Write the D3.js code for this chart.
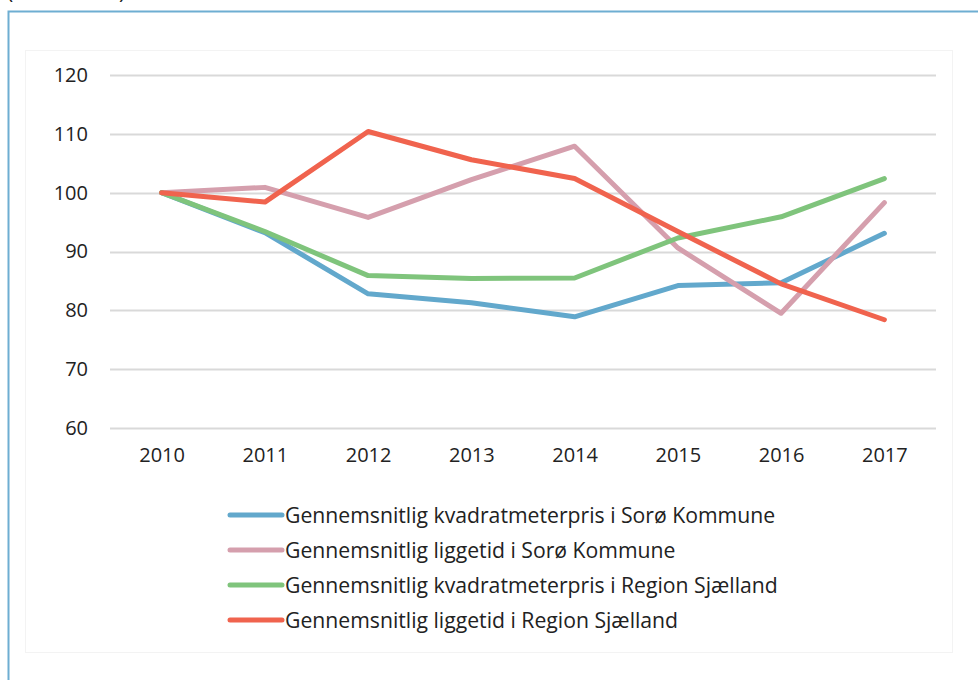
<!DOCTYPE html>
<html><head><meta charset="utf-8">
<script src="https://cdn.jsdelivr.net/npm/d3@7"></script>
<style>
html,body{margin:0;padding:0;background:#fff;}
svg{display:block;font-family:"Open Sans",sans-serif;}
</style></head>
<body>
<svg id="chart" width="978" height="680"></svg>
<script>
const years = ["2010","2011","2012","2013","2014","2015","2016","2017"];
const yTicks = [60,70,80,90,100,110,120];
const seriesNames = [
  "Gennemsnitlig kvadratmeterpris i Sorø Kommune",
  "Gennemsnitlig liggetid i Sorø Kommune",
  "Gennemsnitlig kvadratmeterpris i Region Sjælland",
  "Gennemsnitlig liggetid i Region Sjælland"
];
const seriesColors = ["#62a8cc","#d59fad","#7fc47c","#f0634e"];
const soroPris = [100, 93.2, 82.8, 81.3, 78.9, 84.2, 84.7, 93.1];
const soroLiggetid = [100, 100.9, 95.8, 102.2, 107.9, 90.6, 79.5, 98.3];
const regionPris = [100, 93.4, 85.9, 85.4, 85.5, 92.3, 95.9, 102.4];
const regionLiggetid = [100, 98.4, 110.4, 105.6, 102.4, 93.4, 84.5, 78.4];
const seriesValues = [soroPris, soroLiggetid, regionPris, regionLiggetid];
const titleText = "(Indeks 100)";

const svg = d3.select("#chart");

// outer frame (title sits above, mostly out of view as in the source)
svg.append("text").attr("x", 7).attr("y", -1).attr("font-size", 21).attr("fill", "#222").text(titleText);
svg.append("rect").attr("x", 8.5).attr("y", 11.5).attr("width", 990).attr("height", 700)
  .attr("fill", "none").attr("stroke", "#6eaed2").attr("stroke-width", 2);
svg.append("rect").attr("x", 25.5).attr("y", 50.5).attr("width", 927).attr("height", 602)
  .attr("fill", "none").attr("stroke", "#f3f3f3").attr("stroke-width", 1);

const x = d3.scalePoint().domain(years).range([110, 936]).padding(0.5);
const y = d3.scaleLinear().domain([60, 120]).range([428, 75]);

// gridlines
const grid = svg.append("g");
grid.selectAll("line").data(yTicks).join("line")
  .attr("x1", 110).attr("x2", 936)
  .attr("y1", d => Math.round(y(d)) + 0.5).attr("y2", d => Math.round(y(d)) + 0.5)
  .attr("stroke", "#d9d9d9").attr("stroke-width", 2);

// y axis labels
const yAxis = d3.axisLeft(y).tickValues(yTicks).tickSize(0).tickPadding(0);
const gy = svg.append("g").attr("transform", "translate(88,0)").call(yAxis);
gy.select(".domain").remove();
gy.selectAll("text").attr("font-size", 20).attr("fill", "#222").attr("font-family", "'Open Sans',sans-serif");

// x axis labels
const xAxis = d3.axisBottom(x).tickSize(0).tickPadding(0);
const gx = svg.append("g").attr("transform", "translate(0,448)").call(xAxis);
gx.select(".domain").remove();
gx.selectAll("text").attr("font-size", 20).attr("fill", "#222").attr("font-family", "'Open Sans',sans-serif");

// lines
const line = d3.line().x((d, i) => x(years[i])).y(d => y(d));
svg.append("g").selectAll("path").data(seriesValues).join("path")
  .attr("d", d => line(d))
  .attr("fill", "none")
  .attr("stroke", (d, i) => seriesColors[i])
  .attr("stroke-width", 5)
  .attr("stroke-linejoin", "round")
  .attr("stroke-linecap", "round");

// legend
const lg = svg.append("g");
const items = lg.selectAll("g").data(seriesNames).join("g")
  .attr("transform", (d, i) => `translate(228,${515 + i * 35})`);
items.append("line").attr("x1", 2).attr("x2", 54).attr("y1", 0).attr("y2", 0)
  .attr("stroke", (d, i) => seriesColors[i]).attr("stroke-width", 5).attr("stroke-linecap", "round");
items.append("text").attr("x", 57).attr("y", 8).attr("font-size", 21.2).attr("fill", "#222").text(d => d);
</script>
</body></html>
